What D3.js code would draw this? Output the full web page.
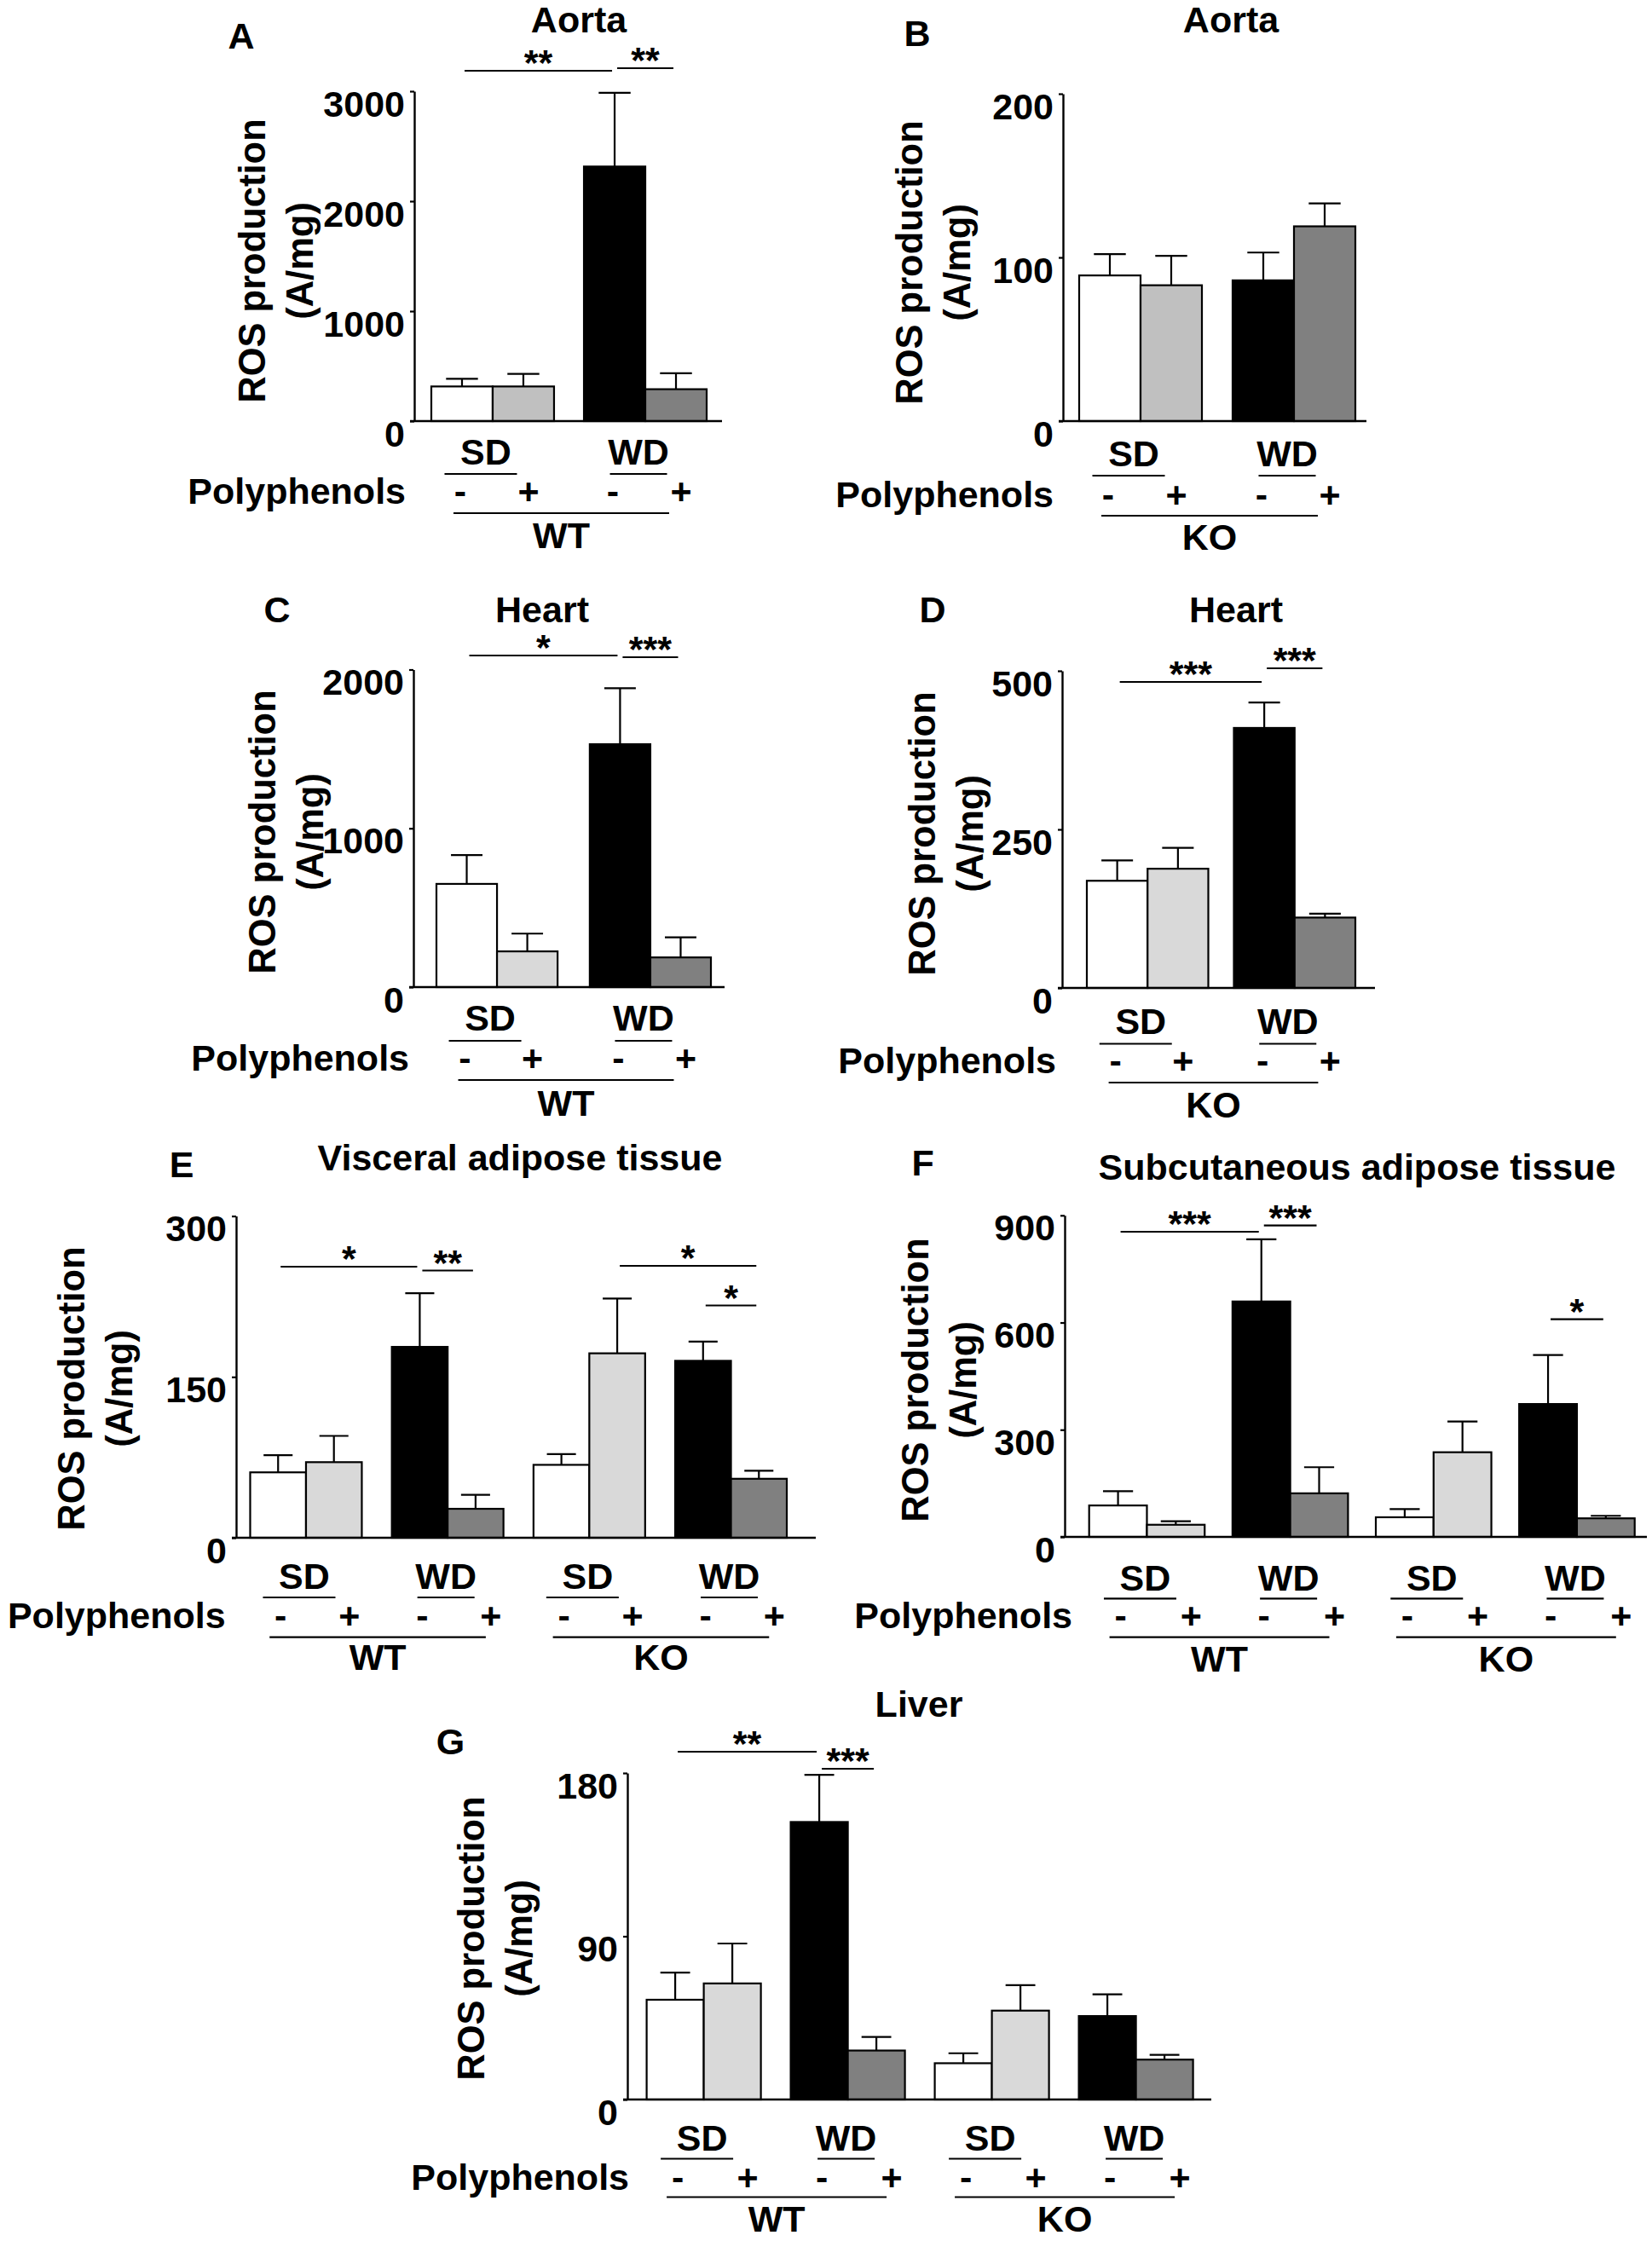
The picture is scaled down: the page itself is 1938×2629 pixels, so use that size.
<!DOCTYPE html>
<html>
<head>
<meta charset="utf-8">
<script src="https://cdn.jsdelivr.net/npm/d3@7"></script>
<style>
  body { margin: 0; background: #fff; }
  svg { display: block; }
  text { font-family: 'Liberation Sans', Arial, Helvetica, sans-serif; font-weight: bold; fill: #000; }
</style>
</head>
<body>
<svg id="fig"></svg>
<script>
// ---- data (ROS production, A/mg) ----
const polyLevels = ["-", "+"];
const dietLabels = ["SD", "WD"];

const panelLetters = ["A", "B", "C", "D", "E", "F", "G"];
const panelTitles = ["Aorta", "Aorta", "Heart", "Heart",
  "Visceral adipose tissue", "Subcutaneous adipose tissue", "Liver"];

// order of bars: SD-, SD+, WD-, WD+ (per genotype)
const aortaWtMean = [315, 315, 2315, 290];
const aortaWtSem = [70, 115, 670, 145];
const aortaWtTicks = [0, 1000, 2000, 3000];

const aortaKoMean = [89, 83, 86, 119];
const aortaKoSem = [13, 18, 17, 14];
const aortaKoTicks = [0, 100, 200];

const heartWtMean = [650, 225, 1530, 187];
const heartWtSem = [182, 112, 353, 126];
const heartWtTicks = [0, 1000, 2000];

const heartKoMean = [169, 188, 410, 111];
const heartKoSem = [32, 33, 40, 6];
const heartKoTicks = [0, 250, 500];

// WT then KO
const visceralMean = [61, 70.5, 178, 27, 68, 172, 165, 55];
const visceralSem = [16, 24.5, 50, 13, 10, 51, 18, 7.5];
const visceralTicks = [0, 150, 300];

const subcutMean = [88, 34, 659, 122, 55, 237, 372, 52];
const subcutSem = [40, 10, 174, 73, 23, 86, 137, 7];
const subcutTicks = [0, 300, 600, 900];

const liverMean = [55, 64, 153, 27, 20, 49, 46, 22];
const liverSem = [15, 22, 26, 7.5, 5.5, 14, 12, 2.6];
const liverTicks = [0, 90, 180];

// significance brackets: [from bar, to bar, label]
const aortaWtSig = [[0, 2, "**"], [2, 3, "**"]];
const heartWtSig = [[0, 2, "*"], [2, 3, "***"]];
const heartKoSig = [[0, 2, "***"], [2, 3, "***"]];
const visceralSig = [[0, 2, "*"], [2, 3, "**"], [5, 7, "*"], [6, 7, "*"]];
const subcutSig = [[0, 2, "***"], [2, 3, "***"], [6, 7, "*"]];
const liverSig = [[0, 2, "**"], [2, 3, "***"]];

// ---- drawing ----
const W = 1938, H = 2629;
const FS = 43, YFS = 43.5;

const svg = d3.select("#fig").attr("width", W).attr("height", H);
svg.append("rect").attr("width", W).attr("height", H).attr("fill", "#fff");

function label(g, x, y, str, anchor) {
  return g.append("text")
    .attr("x", x).attr("y", y)
    .attr("text-anchor", anchor || "middle")
    .attr("font-size", FS)
    .text(str);
}

function hline(g, xa, xb, y, w) {
  g.append("line").attr("x1", xa).attr("x2", xb).attr("y1", y).attr("y2", y)
    .attr("stroke", "#000").attr("stroke-width", w || 2.2);
}

const panels = [
  { mean: aortaWtMean, sem: aortaWtSem, ticks: aortaWtTicks, geno: ["WT"], sig: aortaWtSig, sigY: [83, 80],
    light: "#c0c0c0", x0: 486, x1: 847, y0: 494, yTop: 107, barRange: [506, 829], pad: 0.196,
    title: [679, 38], letter: [283, 57], rosX: 311, labCy: 306, polyX: 476,
    off: [51, 62, 97, 108, 149] },
  { mean: aortaKoMean, sem: aortaKoSem, ticks: aortaKoTicks, geno: ["KO"], sig: [], sigY: [],
    light: "#c0c0c0", x0: 1247, x1: 1603, y0: 494, yTop: 110, barRange: [1266, 1590], pad: 0.2,
    title: [1444, 38], letter: [1076, 54], rosX: 1082, labCy: 308, polyX: 1236,
    off: [53, 64, 101, 111, 151] },
  { mean: heartWtMean, sem: heartWtSem, ticks: heartWtTicks, geno: ["WT"], sig: heartWtSig, sigY: [769, 771],
    light: "#d9d9d9", x0: 485, x1: 850, y0: 1158, yTop: 785.5, barRange: [512, 834], pad: 0.21,
    title: [636, 730], letter: [325, 730], rosX: 323, labCy: 976, polyX: 480,
    off: [51, 63, 98, 109, 151] },
  { mean: heartKoMean, sem: heartKoSem, ticks: heartKoTicks, geno: ["KO"], sig: heartKoSig, sigY: [800, 784],
    light: "#d9d9d9", x0: 1246, x1: 1613, y0: 1159, yTop: 787, barRange: [1275, 1590], pad: 0.174,
    title: [1450, 730], letter: [1094, 730], rosX: 1097, labCy: 978, polyX: 1239,
    off: [54, 65.5, 99.5, 111, 152] },
  { mean: visceralMean, sem: visceralSem, ticks: visceralTicks, geno: ["WT", "KO"], sig: visceralSig,
    sigY: [1486, 1490.5, 1485, 1531.5],
    light: "#d9d9d9", x0: 277, x1: 957, y0: 1804, yTop: 1426.6, barRange: [293.5, 923], pad: 0.212,
    title: [610, 1373], letter: [213, 1381], rosX: 98.5, labCy: 1629, polyX: 264.6,
    off: [59.6, 70, 106, 116.7, 154.7] },
  { mean: subcutMean, sem: subcutSem, ticks: subcutTicks, geno: ["WT", "KO"], sig: subcutSig,
    sigY: [1445, 1437.6, 1547.6],
    light: "#d9d9d9", x0: 1249, x1: 1932, y0: 1803, yTop: 1425.8, barRange: [1277.7, 1917.7], pad: 0.194,
    title: [1592, 1383.5], letter: [1082.6, 1379], rosX: 1089, labCy: 1619, polyX: 1258,
    off: [62.7, 72.4, 107, 117.7, 158] },
  { mean: liverMean, sem: liverSem, ticks: liverTicks, geno: ["WT", "KO"], sig: liverSig, sigY: [2055, 2075],
    light: "#d9d9d9", x0: 736, x1: 1421, y0: 2463, yTop: 2080, barRange: [758.6, 1399.6], pad: 0.207,
    title: [1078, 2013.6], letter: [528.5, 2057.8], rosX: 568, labCy: 2274, polyX: 738,
    off: [59.6, 69.5, 106, 114.5, 155] }
];

panels.forEach((p, pi) => {
  const g = svg.append("g");
  const nGroups = p.geno.length * 2;
  const four = nGroups === 4;

  const xg = d3.scaleBand().domain(d3.range(nGroups)).range(p.barRange).paddingInner(p.pad);
  const xi = d3.scaleBand().domain(polyLevels).range([0, xg.bandwidth()]);
  const y = d3.scaleLinear().domain([0, d3.max(p.ticks)]).range([p.y0, p.yTop]);
  const fills = ["#ffffff", p.light, "#000000", "#808080"];

  const bars = p.mean.map((m, i) => ({
    i: i, group: Math.floor(i / 2), poly: polyLevels[i % 2],
    mean: m, sem: p.sem[i], fill: fills[i % 4]
  }));
  const bw = xi.bandwidth();
  const cx = d => xg(d.group) + xi(d.poly) + bw / 2;

  // error bars (upper only)
  g.selectAll(".err").data(bars).enter().append("line")
    .attr("x1", cx).attr("x2", cx)
    .attr("y1", d => y(d.mean)).attr("y2", d => y(d.mean + d.sem))
    .attr("stroke", "#000").attr("stroke-width", 2.2);
  g.selectAll(".cap").data(bars).enter().append("line")
    .attr("x1", d => cx(d) - bw * 0.26).attr("x2", d => cx(d) + bw * 0.26)
    .attr("y1", d => y(d.mean + d.sem)).attr("y2", d => y(d.mean + d.sem))
    .attr("stroke", "#000").attr("stroke-width", 2.2);

  // bars
  g.selectAll(".bar").data(bars).enter().append("rect")
    .attr("x", d => xg(d.group) + xi(d.poly))
    .attr("y", d => y(d.mean))
    .attr("width", bw)
    .attr("height", d => p.y0 - y(d.mean))
    .attr("fill", d => d.fill)
    .attr("stroke", "#000").attr("stroke-width", 2.2);

  // y axis
  const ax = g.append("g").attr("transform", `translate(${p.x0},0)`)
    .call(d3.axisLeft(y).tickValues(p.ticks).tickFormat(d3.format("d")).tickSize(5).tickSizeOuter(0));
  ax.attr("font-family", null).attr("font-size", null);
  ax.select(".domain").attr("stroke-width", 2.4);
  ax.selectAll(".tick line").attr("stroke-width", 2.2);
  ax.selectAll(".tick text")
    .attr("x", -11).attr("dy", null).attr("y", 29)
    .attr("font-size", FS);

  // x baseline
  hline(g, p.x0 - 5, p.x1, p.y0, 2.4);

  // y label
  const yl = g.append("g");
  yl.append("text").attr("transform", `translate(${p.rosX},${p.labCy}) rotate(-90)`)
    .attr("text-anchor", "middle").attr("font-size", YFS).text("ROS production");
  yl.append("text").attr("transform", `translate(${p.rosX + 56},${p.labCy}) rotate(-90)`)
    .attr("text-anchor", "middle").attr("font-size", YFS).text("(A/mg)");

  // title and panel letter
  label(g, p.title[0], p.title[1], panelTitles[pi]);
  label(g, p.letter[0], p.letter[1], panelLetters[pi]);

  // significance brackets
  p.sig.forEach((s, k) => {
    const xa = cx(bars[s[0]]) + 3, xb = cx(bars[s[1]]) - 3, ly = p.sigY[k];
    hline(g, xa, xb, ly, 2.2);
    label(g, (xa + xb) / 2, ly + 5, s[2]);
  });

  // diet labels and underlines
  const off = p.off;
  d3.range(nGroups).forEach(k => {
    const diet = dietLabels[k % 2];
    const gc = xg(k) + xg.bandwidth() / 2;
    const lx = gc + (four ? -2 : -8);
    label(g, lx, p.y0 + off[0], diet);
    const half = diet === "SD" ? 42.5 : 33.5;
    const uc = diet === "SD" ? lx - 6 : lx;
    hline(g, uc - half, uc + half, p.y0 + off[1], 2.2);
  });

  // polyphenols row
  label(g, p.polyX, p.y0 + off[2], "Polyphenols", "end");
  bars.forEach(d => {
    const dx = d.poly === "-" ? (four ? 3 : -2) : (four ? 18 : 6);
    label(g, cx(d) + dx, p.y0 + off[2], d.poly);
  });

  // genotype rows
  p.geno.forEach((gen, k) => {
    const first = bars[k * 4], last = bars[k * 4 + 3];
    const xa = cx(first) - 10, xb = cx(last) + (four ? 12 : -8);
    hline(g, xa, xb, p.y0 + off[3], 2.2);
    label(g, (xa + xb) / 2, p.y0 + off[4], gen);
  });
});
</script>
</body>
</html>
